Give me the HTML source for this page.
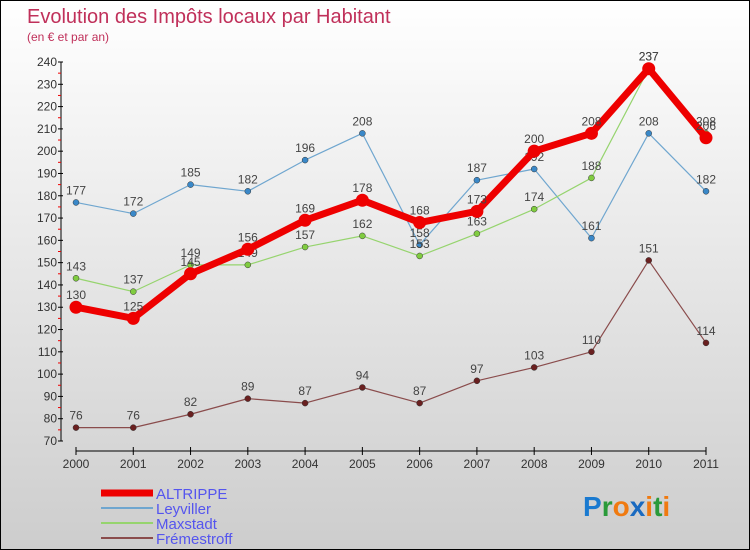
<!DOCTYPE html>
<html><head><meta charset="utf-8"><style>
body{margin:0}
#c{width:750px;height:550px;position:relative;overflow:hidden;box-sizing:border-box;border:1px solid #000;background:linear-gradient(#fff,#cdcdcd);font-family:"Liberation Sans","DejaVu Sans",sans-serif}
svg text{font-family:"Liberation Sans","DejaVu Sans",sans-serif}
</style></head><body>
<div id="c">
<svg width="750" height="550" id="s">
<text x="26" y="22" font-size="20" fill="#c0305a">Evolution des Impôts locaux par Habitant</text>
<text x="26" y="40" font-size="12" fill="#c0305a">(en € et par an)</text>
<g id="axes"></g><g id="plot"></g>
<g>
<line x1="100" y1="492" x2="152" y2="492" stroke="#e00" stroke-width="7"/>
<text x="155" y="498" font-size="15" fill="#5555ee">ALTRIPPE</text>
<line x1="100" y1="507" x2="152" y2="507" stroke="#6fa6cf" stroke-width="2"/>
<text x="155" y="513" font-size="15" fill="#5555ee">Leyviller</text>
<line x1="100" y1="522" x2="152" y2="522" stroke="#96d46e" stroke-width="2"/>
<text x="155" y="528" font-size="15" fill="#5555ee">Maxstadt</text>
<line x1="100" y1="537" x2="152" y2="537" stroke="#8a4c4c" stroke-width="2"/>
<text x="155" y="543" font-size="15" fill="#5555ee">Frémestroff</text>
</g>
<text x="582" y="515" font-size="28" font-weight="bold"><tspan fill="#1a7ad0">P</tspan><tspan fill="#2a9a3a">r</tspan><tspan fill="#f07a10">o</tspan><tspan fill="#1a6ac0">x</tspan><tspan fill="#f07a10">i</tspan><tspan fill="#2a9a3a">t</tspan><tspan fill="#f07a10">i</tspan></text>
</svg></div>
<script>
const years=["2000","2001","2002","2003","2004","2005","2006","2007","2008","2009","2010","2011"];
const altrippe=[130,125,145,156,169,178,168,173,200,208,237,206];
const leyviller=[177,172,185,182,196,208,158,187,192,161,208,182];
const maxstadt=[143,137,149,149,157,162,153,163,174,188,237,208];
const fremestroff=[76,76,82,89,87,94,87,97,103,110,151,114];
const yTicks=[70,80,90,100,110,120,130,140,150,160,170,180,190,200,210,220,230,240];
const NS="http://www.w3.org/2000/svg";
const x=i=>75+i*(630/11);
const y=v=>440-(v-70)*(379/170);
function mk(t,a,p){const e=document.createElementNS(NS,t);for(const k in a)e.setAttribute(k,a[k]);p.appendChild(e);return e;}
const ax=document.getElementById('axes'),pl=document.getElementById('plot');
let l=mk('line',{x1:60,y1:y(240),x2:60,y2:440,stroke:'#000'},ax);


l=mk('line',{x1:75,y1:450,x2:705,y2:450,stroke:'#000'},ax);


yTicks.forEach(v=>{mk('line',{x1:57,y1:y(v),x2:62,y2:y(v),stroke:'#000'},ax);
if(v<240)mk('line',{x1:57,y1:y(v+5),x2:60,y2:y(v+5),stroke:'#e00'},ax);
const t=mk('text',{x:56,y:y(v)+4,'font-size':12,'text-anchor':'end',fill:'#333'},ax);t.textContent=v;

});
years.forEach((yr,i)=>{mk('line',{x1:x(i),y1:446,x2:x(i),y2:454,stroke:'#000'},ax);
const t=mk('text',{x:x(i),y:467,'font-size':12,'text-anchor':'middle',fill:'#333'},ax);t.textContent=yr;

});
function series(d,name,col,w,r,mcol){
const p=mk('polyline',{points:d.map((v,i)=>x(i)+','+y(v)).join(' '),fill:'none',stroke:col,'stroke-width':w,'stroke-linejoin':'round'},pl);


d.forEach((v,i)=>{const c=mk('circle',{cx:x(i),cy:y(v),r:r,fill:mcol,stroke:'#333','stroke-width':w>4?0:0.5},pl);


const t=mk('text',{x:x(i),y:y(v)-8,'font-size':12,'text-anchor':'middle',fill:'#444'},pl);t.textContent=v;

});}
series(leyviller,'leyviller','#6fa6cf',1.2,3,'#3a88c8');
series(maxstadt,'maxstadt','#96d46e',1.2,3,'#80cc40');
series(fremestroff,'fremestroff','#8a4c4c',1.2,3,'#6a2020');
series(altrippe,'altrippe','#e00',7,6.5,'#e00');
</script></body></html>
